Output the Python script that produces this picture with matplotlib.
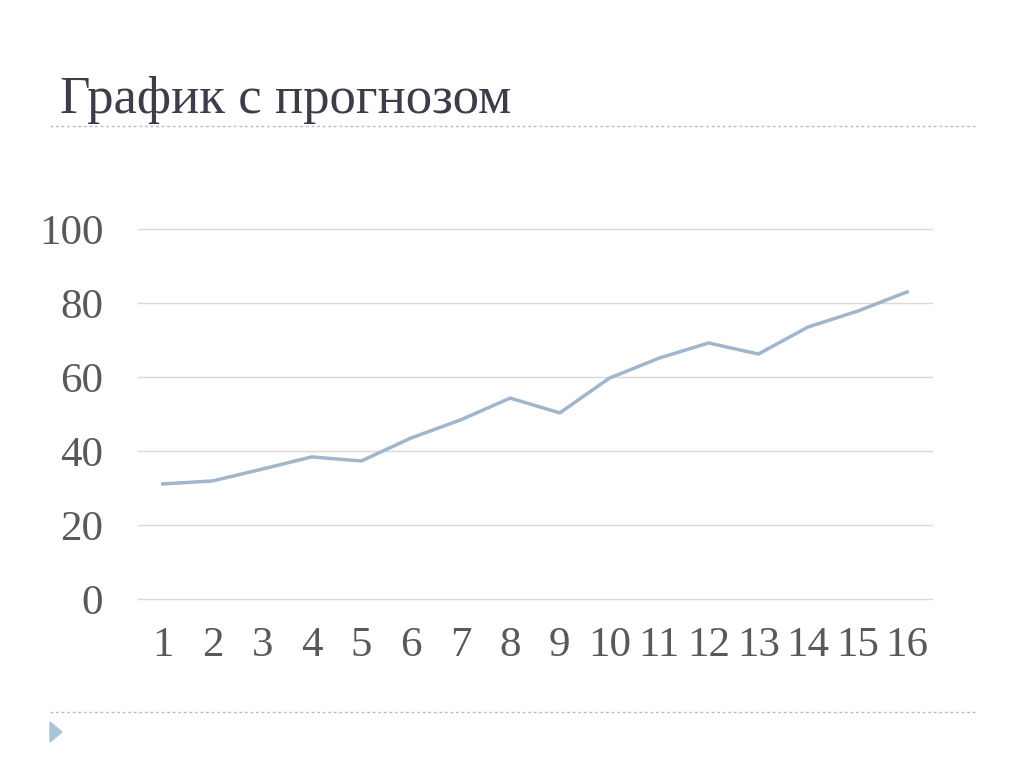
import matplotlib.pyplot as plt
from matplotlib.lines import Line2D
from matplotlib.patches import Polygon

periods = list(range(1, 17))
values = [31.1, 31.9, 35.1, 38.4, 37.3, 43.5, 48.4, 54.3, 50.3, 59.7, 65.1, 69.2, 66.2, 73.5, 77.8, 83.0]
yticks = [0, 20, 40, 60, 80, 100]

plt.rcParams["font.family"] = ["Liberation Serif", "DejaVu Serif"]
fig = plt.figure(figsize=(10.24, 7.67), dpi=100)

fig.text(60 / 1024, 1 - 100 / 767, "График с прогнозом", fontsize=38, color="#3c3c4a", va="center")
for ypx in (126, 712):
    fig.add_artist(Line2D([50 / 1024, 975 / 1024], [1 - ypx / 767] * 2, transform=fig.transFigure,
                          color="#a9c0d0", lw=1, ls=(0, (2, 2))))
fig.add_artist(Polygon([[50 / 1024, 1 - 722 / 767], [50 / 1024, 1 - 742 / 767], [62 / 1024, 1 - 732 / 767]],
                       closed=True, transform=fig.transFigure, color="#a9c4d4"))

ax = fig.add_axes([138 / 1024, 1 - 599 / 767, 794 / 1024, 370 / 767])
ax.plot(periods, values, color="#9fb6cc", lw=2.5)
ax.set_xlim(0.5, 16.5)
ax.set_ylim(0, 100)
ax.set_yticks(yticks)
ax.set_xticks(periods)
ax.grid(axis="y", color="#d9d9d9", lw=1)
for gl in ax.get_ygridlines():
    gl.set_clip_on(False)
ax.set_axisbelow(True)
for s in ax.spines.values():
    s.set_visible(False)
ax.tick_params(length=0, labelsize=31, labelcolor="#595959")
ax.tick_params(axis="x", pad=20)
ax.tick_params(axis="y", pad=25)

fig.savefig("out.png", dpi=100)
